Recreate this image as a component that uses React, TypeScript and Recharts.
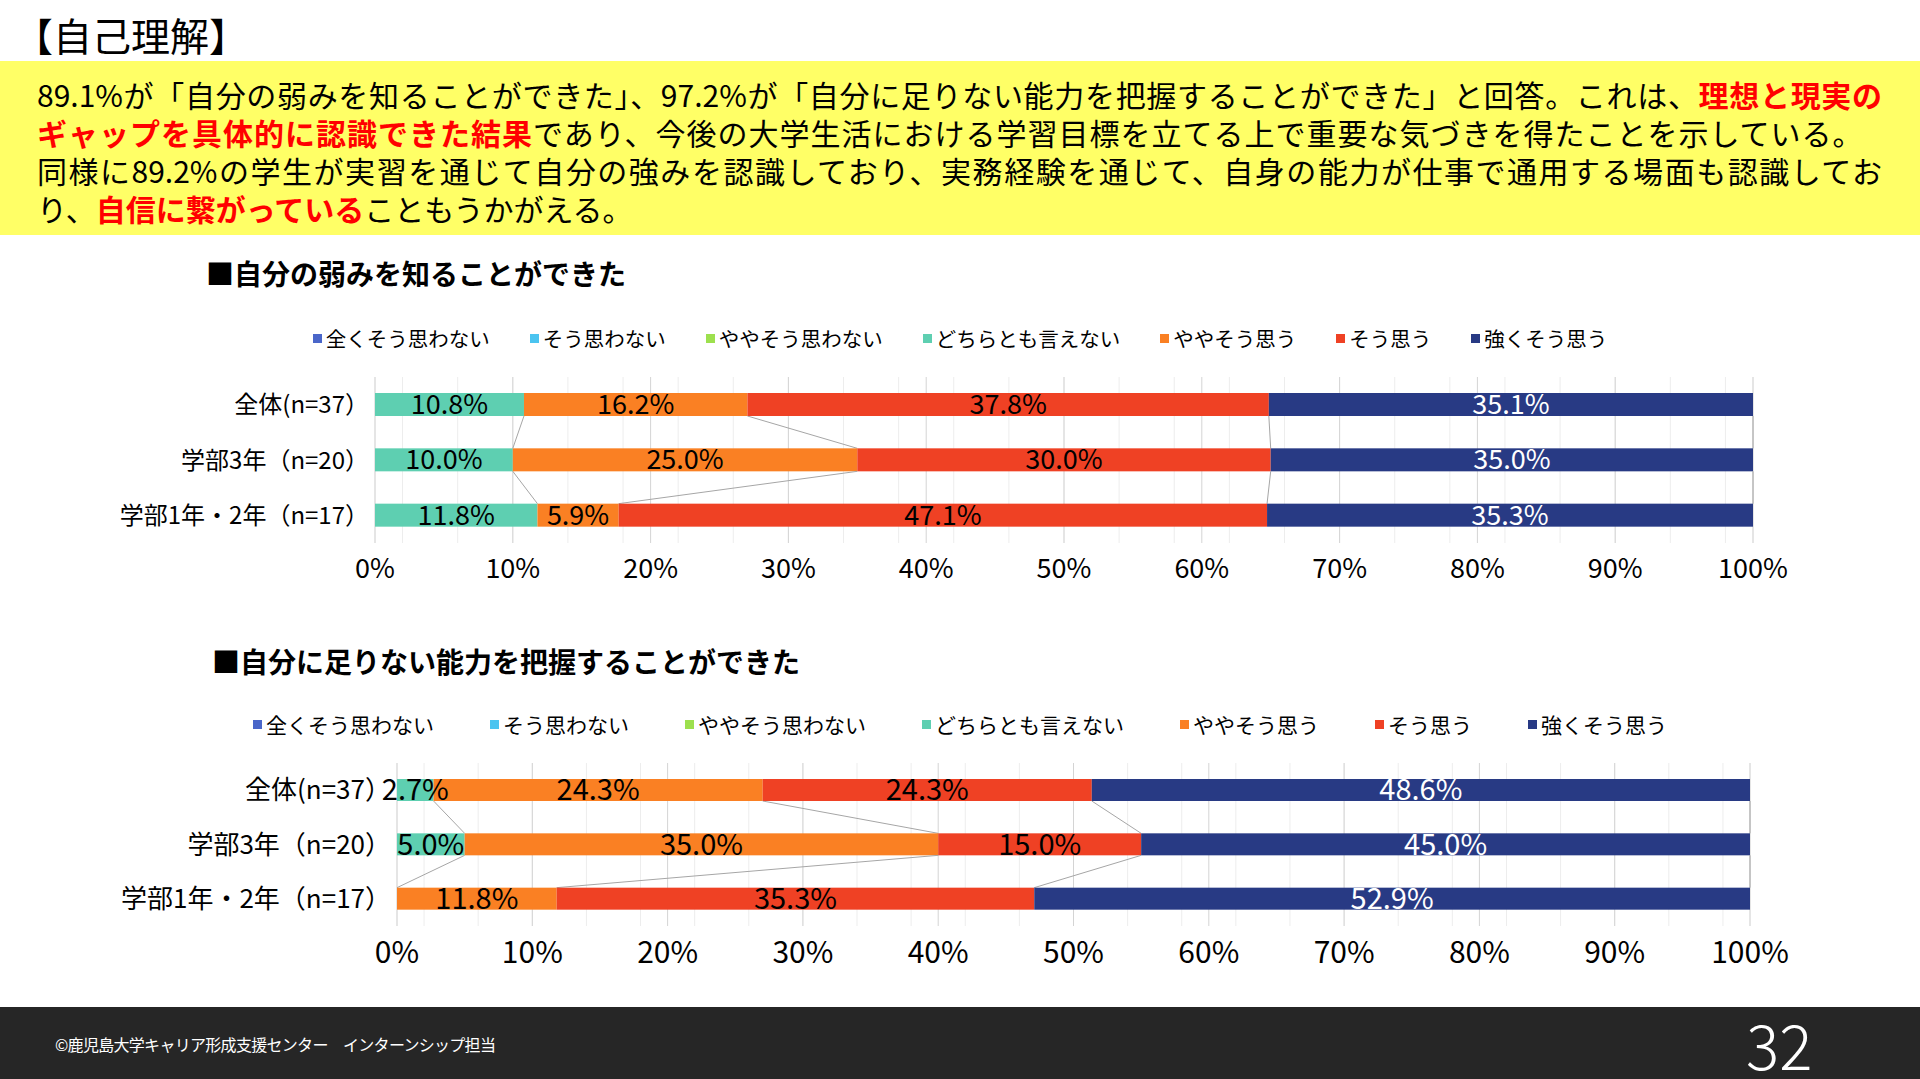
import React from 'react';
import { BarChart, Bar, XAxis, YAxis, CartesianGrid, Legend, LabelList } from 'recharts';

const FONT = '"Noto Sans CJK JP", "Noto Sans", sans-serif';

const seriesNames = ['全くそう思わない', 'そう思わない', 'ややそう思わない', 'どちらとも言えない', 'ややそう思う', 'そう思う', '強くそう思う'];
const seriesColors = ['#4A66C9', '#4BC4F0', '#9DE04E', '#5ECFB1', '#FA8023', '#EF4124', '#283A84'];
const labelColors = ['#000', '#000', '#000', '#000', '#000', '#000', '#FFFFFF'];

const groups = ['全体(n=37）', '学部3年（n=20）', '学部1年・2年（n=17）'];

// 自分の弱みを知ることができた
const q1StronglyDisagree = [0, 0, 0];
const q1Disagree = [0, 0, 0];
const q1SlightlyDisagree = [0, 0, 0];
const q1Neutral = [10.8, 10.0, 11.8];
const q1SlightlyAgree = [16.2, 25.0, 5.9];
const q1Agree = [37.8, 30.0, 47.1];
const q1StronglyAgree = [35.1, 35.0, 35.3];

// 自分に足りない能力を把握することができた
const q2StronglyDisagree = [0, 0, 0];
const q2Disagree = [0, 0, 0];
const q2SlightlyDisagree = [0, 0, 0];
const q2Neutral = [2.7, 5.0, 0];
const q2SlightlyAgree = [24.3, 35.0, 11.8];
const q2Agree = [24.3, 15.0, 35.3];
const q2StronglyAgree = [48.6, 45.0, 52.9];

const majorTicks = [0, 0.1, 0.2, 0.3, 0.4, 0.5, 0.6, 0.7, 0.8, 0.9, 1];
const minorTicks = Array.from({ length: 51 }, (_, i) => i / 50);

const MARGIN_TOP = 9;
const MARGIN_BOTTOM = 5;
const LEGEND_H = 78;
const AXIS_H = 40;

type ChartProps = {
  series: number[][];
  top: number;
  plotLeft: number;
  plotRight: number;
  plotH: number;
  barSize: number;
  legendFont: number;
  legendGap: number;
  xTickFont: number;
  xTickMargin: number;
  yTickFont: number;
  labelFont: number;
};

function StackedChart(p: ChartProps) {
  const keys = seriesNames.map((_, i) => `s${i}`);
  const data = groups.map((g, r) => {
    const row: any = { group: g };
    p.series.forEach((vals, s) => {
      row[keys[s]] = vals[r];
    });
    return row;
  });
  const band = p.plotH / groups.length;
  const height = MARGIN_TOP + LEGEND_H + p.plotH + AXIS_H + MARGIN_BOTTOM;
  const total = (r: number) => p.series.reduce((a, vals) => a + vals[r], 0);
  const cum = (r: number, s: number) => {
    let c = 0;
    for (let k = 0; k <= s; k++) c += p.series[k][r];
    return c / total(r);
  };

  // bar rectangle plus the grey series line down to the next bar
  const shapeFor = (s: number) => (props: any) => {
    const { x, y, width, height: h, index } = props;
    const frac = p.series[s][index] / total(index);
    if (!(width > 0) || !(frac > 0)) return <g />;
    const ppu = width / frac;
    const left = x - (s > 0 ? cum(index, s - 1) : 0) * ppu;
    const hasNext = s >= 3 && index < groups.length - 1;
    return (
      <g>
        <rect x={x} y={y} width={width} height={h} fill={seriesColors[s]} />
        {hasNext && (
          <line
            x1={x + width}
            y1={y + h}
            x2={left + cum(index + 1, s) * ppu}
            y2={y + band}
            stroke="#A6A6A6"
            strokeWidth={1}
          />
        )}
      </g>
    );
  };

  const renderLegend = (props: any) => {
    const items = [...(props.payload || [])].sort(
      (a: any, b: any) => seriesNames.indexOf(a.value) - seriesNames.indexOf(b.value)
    );
    return (
      <div
        style={{
          height: LEGEND_H,
          display: 'flex',
          alignItems: 'center',
          justifyContent: 'center',
          fontSize: p.legendFont,
          color: '#000',
          fontFamily: FONT,
        }}
      >
        {items.map((e: any, i: number) => (
          <span key={i} style={{ display: 'flex', alignItems: 'center', marginLeft: i ? p.legendGap : 0 }}>
            <span style={{ width: 9, height: 9, background: e.color, marginRight: 4, display: 'inline-block' }} />
            <span>{e.value}</span>
          </span>
        ))}
      </div>
    );
  };

  return (
    <div style={{ position: 'absolute', left: 0, top: p.top, width: 1920, height, fontFamily: FONT }}>
      <BarChart
        width={1920}
        height={height}
        data={data}
        layout="vertical"
        stackOffset="expand"
        margin={{ top: MARGIN_TOP, right: 1920 - p.plotRight, bottom: MARGIN_BOTTOM, left: 0 }}
      >
        <CartesianGrid xAxisId="minor" horizontal={false} stroke="#EDEDED" />
        <CartesianGrid horizontal={false} stroke="#D4D4D4" />
        <XAxis xAxisId="minor" type="number" domain={[0, 1]} ticks={minorTicks} hide />
        <XAxis
          type="number"
          domain={[0, 1]}
          ticks={majorTicks}
          interval={0}
          height={AXIS_H}
          axisLine={false}
          tickLine={false}
          tickMargin={p.xTickMargin}
          tick={{ fill: '#000', fontSize: p.xTickFont }}
          tickFormatter={(v: number) => `${Math.round(v * 100)}%`}
        />
        <YAxis
          type="category"
          dataKey="group"
          width={p.plotLeft}
          axisLine={false}
          tickLine={false}
          tickMargin={0}
          tick={{ fill: '#000', fontSize: p.yTickFont }}
        />
        <Legend verticalAlign="top" wrapperStyle={{ left: 0, width: 1920 }} content={renderLegend} />
        {keys.map((k, s) => (
          <Bar
            key={k}
            dataKey={k}
            name={seriesNames[s]}
            stackId="a"
            fill={seriesColors[s]}
            barSize={p.barSize}
            isAnimationActive={false}
            shape={shapeFor(s)}
          >
            {s >= 3 && (
              <LabelList
                dataKey={k}
                position="center"
                fill={labelColors[s]}
                fontSize={p.labelFont}
                formatter={(v: any) => (v ? `${Number(v).toFixed(1)}%` : '')}
              />
            )}
          </Bar>
        ))}
      </BarChart>
    </div>
  );
}

const red = { color: '#FF0000', fontWeight: 700 };

export default function App() {
  return (
    <div
      style={{
        position: 'absolute',
        left: 0,
        top: 0,
        width: 1920,
        height: 1079,
        background: '#FFFFFF',
        overflow: 'hidden',
        fontFamily: FONT,
        color: '#000',
      }}
    >
      <div style={{ position: 'absolute', left: 14, top: 8, fontSize: 39, lineHeight: '52px' }}>【自己理解】</div>

      <div style={{ position: 'absolute', left: 0, top: 61, width: 1920, height: 174, background: '#FFFF66' }}>
        <div style={{ position: 'absolute', left: 37, top: 14, width: 1845, fontSize: 30, lineHeight: '38px' }}>
          <div style={{ textAlign: 'justify', textAlignLast: 'justify' }}>
            89.1%が「自分の弱みを知ることができた」、97.2%が「自分に足りない能力を把握することができた」と回答。これは、
            <span style={red}>理想と現実の</span>
          </div>
          <div style={{ letterSpacing: 1 }}>
            <span style={red}>ギャップを具体的に認識できた結果</span>
            であり、今後の大学生活における学習目標を立てる上で重要な気づきを得たことを示している。
          </div>
          <div style={{ textAlign: 'justify', textAlignLast: 'justify' }}>
            同様に89.2%の学生が実習を通じて自分の強みを認識しており、実務経験を通じて、自身の能力が仕事で通用する場面も認識してお
          </div>
          <div>
            り、<span style={red}>自信に繋がっている</span>こともうかがえる。
          </div>
        </div>
      </div>

      <div style={{ position: 'absolute', left: 206, top: 256, fontSize: 28, fontWeight: 700, lineHeight: '34px' }}>
        ■自分の弱みを知ることができた
      </div>
      <StackedChart
        series={[q1StronglyDisagree, q1Disagree, q1SlightlyDisagree, q1Neutral, q1SlightlyAgree, q1Agree, q1StronglyAgree]}
        top={290}
        plotLeft={375}
        plotRight={1753}
        plotH={166}
        barSize={23}
        legendFont={20.5}
        legendGap={40}
        xTickFont={27}
        xTickMargin={10}
        yTickFont={24}
        labelFont={27}
      />

      <div style={{ position: 'absolute', left: 212, top: 644, fontSize: 28, fontWeight: 700, lineHeight: '34px' }}>
        ■自分に足りない能力を把握することができた
      </div>
      <StackedChart
        series={[q2StronglyDisagree, q2Disagree, q2SlightlyDisagree, q2Neutral, q2SlightlyAgree, q2Agree, q2StronglyAgree]}
        top={676}
        plotLeft={397}
        plotRight={1750}
        plotH={163}
        barSize={22}
        legendFont={21}
        legendGap={56}
        xTickFont={30}
        xTickMargin={10}
        yTickFont={26}
        labelFont={29}
      />

      <div style={{ position: 'absolute', left: 0, top: 1007, width: 1920, height: 72, background: '#262626' }}>
        <div style={{ position: 'absolute', left: 55, top: 26, fontSize: 16, lineHeight: '22px', color: '#FFFFFF', letterSpacing: -0.7 }}>
          ©鹿児島大学キャリア形成支援センター　インターンシップ担当
        </div>
        <div style={{ position: 'absolute', left: 1746, top: 6, fontSize: 62, fontWeight: 300, lineHeight: '60px', color: '#FFFFFF' }}>
          32
        </div>
      </div>
    </div>
  );
}
